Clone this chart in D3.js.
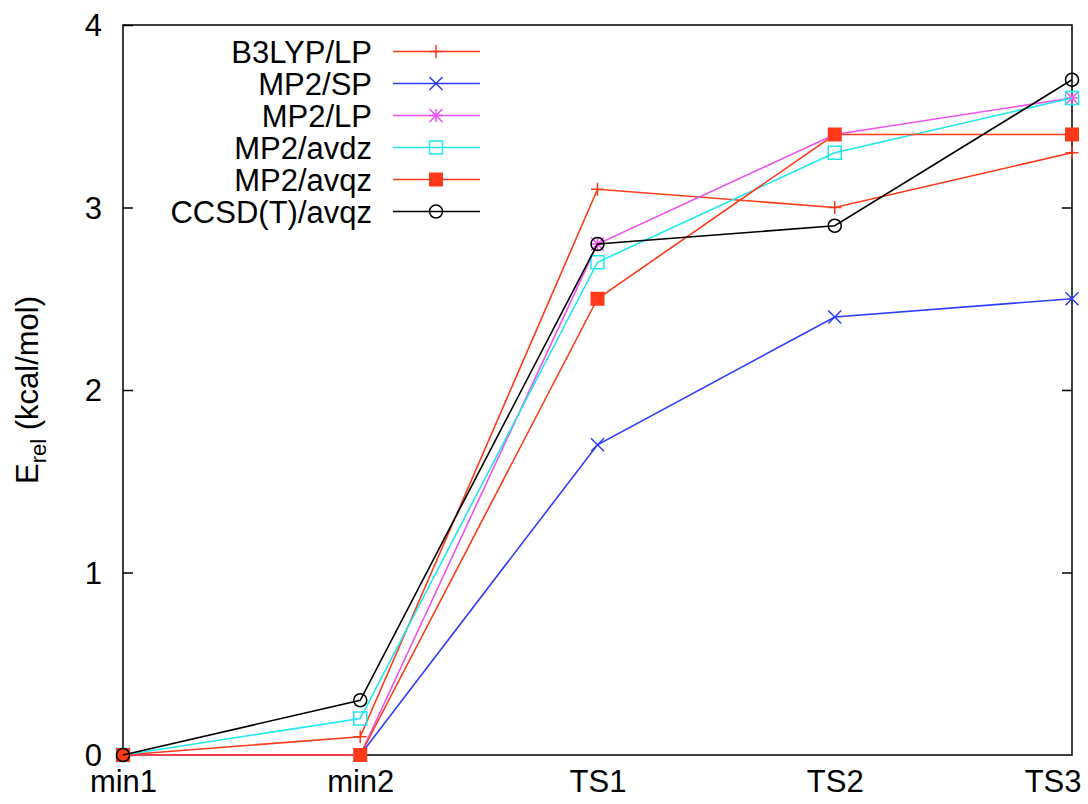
<!DOCTYPE html>
<html>
<head>
<meta charset="utf-8">
<script src="https://cdn.jsdelivr.net/npm/d3@7"></script>
<style>
  body { margin: 0; background: #fff; }
  svg text { font-family: "Liberation Sans", Arial, sans-serif; }
</style>
</head>
<body>
<div id="chart"></div>
<script>
// data
const categories = ["min1", "min2", "TS1", "TS2", "TS3"];
const b3lypLP  = [0, 0.1, 3.1, 3.0, 3.3];
const mp2SP    = [0, 0,   1.7, 2.4, 2.5];
const mp2LP    = [0, 0,   2.8, 3.4, 3.6];
const mp2avdz  = [0, 0.2, 2.7, 3.3, 3.6];
const mp2avqz  = [0, 0,   2.5, 3.4, 3.4];
const ccsdAvqz = [0, 0.3, 2.8, 2.9, 3.7];
const yTicks = [0, 1, 2, 3, 4];

const series = [
  { name: "B3LYP/LP",     values: b3lypLP,  color: "#ff3a1a", mark: "plus" },
  { name: "MP2/SP",       values: mp2SP,    color: "#2e3cff", mark: "cross" },
  { name: "MP2/LP",       values: mp2LP,    color: "#f052f0", mark: "star" },
  { name: "MP2/avdz",     values: mp2avdz,  color: "#1ee8ee", mark: "square" },
  { name: "MP2/avqz",     values: mp2avqz,  color: "#ff3a1a", mark: "fsquare" },
  { name: "CCSD(T)/avqz", values: ccsdAvqz, color: "#000000", mark: "circle" }
];

const width = 1088, height = 804;
const margin = { top: 25, left: 123, bottom: 49, right: 16 };
const iwidth = width - margin.left - margin.right;
const iheight = height - margin.top - margin.bottom;
const fs = 31;

const svg = d3.select("#chart").append("svg")
  .attr("width", width)
  .attr("height", height);

const g = svg.append("g").attr("transform", `translate(${margin.left},${margin.top})`);

const x = d3.scalePoint().domain(categories).range([0, iwidth]).padding(0);
const y = d3.scaleLinear().domain([0, 4]).range([iheight, 0]);

// axes
const yAxis = g.append("g")
  .call(d3.axisLeft(y).tickValues(yTicks).tickFormat(d3.format("d")).tickSize(-10).tickPadding(21));
yAxis.select(".domain").remove();
yAxis.selectAll("line").attr("stroke", "#000").attr("stroke-width", 1.5);
yAxis.selectAll("text").attr("font-size", fs).attr("fill", "#000").attr("dy", "0.34em");

const yAxisR = g.append("g").attr("transform", `translate(${iwidth},0)`)
  .call(d3.axisRight(y).tickValues(yTicks.slice(1, 4)).tickSize(-10).tickFormat(""));
yAxisR.select(".domain").remove();
yAxisR.selectAll("line").attr("stroke", "#000").attr("stroke-width", 1.5);

const xAxis = g.append("g").attr("transform", `translate(0,${iheight})`)
  .call(d3.axisBottom(x).tickSize(0));
xAxis.select(".domain").remove();
xAxis.selectAll("text").attr("font-size", fs).attr("fill", "#000")
  .attr("y", 37).attr("dy", 0);
xAxis.selectAll(".tick").filter(d => d === "TS3").select("text")
  .attr("text-anchor", "end").attr("x", 9);

// frame
g.append("rect")
  .attr("width", iwidth).attr("height", iheight)
  .attr("fill", "none").attr("stroke", "#000").attr("stroke-width", 1.5);

// y label
const ylab = svg.append("text")
  .attr("transform", "translate(38,390) rotate(-90)")
  .attr("text-anchor", "middle")
  .attr("font-size", fs);
ylab.append("tspan").text("E");
ylab.append("tspan").attr("font-size", 22).attr("dy", 8).text("rel");
ylab.append("tspan").attr("dy", -8).text(" (kcal/mol)");

function drawMark(sel, mark, color) {
  const s = 6.5;
  if (mark === "plus") {
    sel.append("path").attr("d", `M${-s},0H${s}M0,${-s}V${s}`)
      .attr("stroke", color).attr("stroke-width", 1.5).attr("fill", "none");
  } else if (mark === "cross") {
    sel.append("path").attr("d", `M${-s},${-s}L${s},${s}M${-s},${s}L${s},${-s}`)
      .attr("stroke", color).attr("stroke-width", 1.5).attr("fill", "none");
  } else if (mark === "star") {
    sel.append("path").attr("d", `M${-s},0H${s}M0,${-s}V${s}M${-s},${-s}L${s},${s}M${-s},${s}L${s},${-s}`)
      .attr("stroke", color).attr("stroke-width", 1.5).attr("fill", "none");
  } else if (mark === "square") {
    sel.append("rect").attr("x", -s).attr("y", -s).attr("width", 2 * s).attr("height", 2 * s)
      .attr("stroke", color).attr("stroke-width", 1.5).attr("fill", "none");
  } else if (mark === "fsquare") {
    sel.append("rect").attr("x", -s - 0.5).attr("y", -s - 0.5).attr("width", 2 * s + 1).attr("height", 2 * s + 1)
      .attr("fill", color);
  } else if (mark === "circle") {
    sel.append("circle").attr("r", s).attr("stroke", color).attr("stroke-width", 1.5).attr("fill", "none");
  }
}

const line = d3.line().x((d, i) => x(categories[i])).y(d => y(d));

series.forEach(s => {
  g.append("path")
    .datum(s.values)
    .attr("d", line)
    .attr("fill", "none")
    .attr("stroke", s.color)
    .attr("stroke-width", 1.6);
  g.selectAll(null).data(s.values).enter().append("g")
    .attr("transform", (d, i) => `translate(${x(categories[i])},${y(d)})`)
    .each(function () { drawMark(d3.select(this), s.mark, s.color); });
});

// legend
const legend = svg.append("g");
series.forEach((s, i) => {
  const ly = 51.5 + i * 32;
  legend.append("text")
    .attr("x", 372).attr("y", ly).attr("dy", "0.36em")
    .attr("text-anchor", "end").attr("font-size", fs).text(s.name);
  legend.append("line")
    .attr("x1", 393).attr("x2", 480).attr("y1", ly).attr("y2", ly)
    .attr("stroke", s.color).attr("stroke-width", 1.6);
  const mg = legend.append("g").attr("transform", `translate(436,${ly})`);
  drawMark(mg, s.mark, s.color);
});
</script>
</body>
</html>
